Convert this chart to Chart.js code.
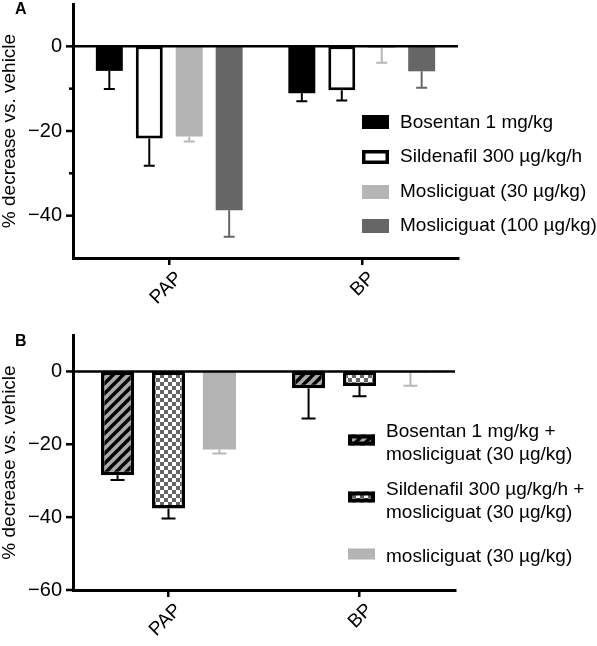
<!DOCTYPE html>
<html><head><meta charset="utf-8">
<script src="https://cdn.jsdelivr.net/npm/chart.js@4.4.1/dist/chart.umd.min.js"></script>
<style>
html,body{margin:0;padding:0;background:#fff;}
#wrap{position:relative;width:597px;height:646px;overflow:hidden;}
.box{position:absolute;left:0;width:597px;}
</style></head><body>
<div id="wrap">
<div class="box" style="top:0;height:318px"><canvas id="cA" width="597" height="318"></canvas></div>
<div class="box" style="top:318px;height:328px"><canvas id="cB" width="597" height="328"></canvas></div>
</div>
<script>
// ---------- DATA ----------
const categories = ['PAP', 'BP'];
const yTitle = '% decrease vs. vehicle';

// Panel A
const labelsA = ['Bosentan 1 mg/kg', 'Sildenafil 300 µg/kg/h', 'Mosliciguat (30 µg/kg)', 'Mosliciguat (100 µg/kg)'];
const bosentanA = [-5.8, -11.1];
const bosentanAErr = [4.3, 1.9];
const sildenafilA = [-21.8, -10.4];
const sildenafilAErr = [6.4, 2.4];
const mosli30A = [-21.3, -0.4];
const mosli30AErr = [1.2, 3.5];
const mosli100A = [-38.7, -5.9];
const mosli100AErr = [6.3, 3.9];
const ticksA = [0, -20, -40];
const minorTicksA = [-10, -30];

// Panel B
const labelsB = [['Bosentan 1 mg/kg +', 'mosliciguat (30 µg/kg)'], ['Sildenafil 300 µg/kg/h +', 'mosliciguat (30 µg/kg)'], ['mosliciguat (30 µg/kg)']];
const bosMosB = [-28.5, -4.6];
const bosMosBErr = [1.3, 8.3];
const silMosB = [-37.6, -4.0];
const silMosBErr = [2.8, 2.8];
const mosli30B = [-21.4, -0.3];
const mosli30BErr = [1.1, 3.6];
const ticksB = [0, -20, -40, -60];

// ---------- PATTERNS ----------
function hatchPattern() {
  const c = document.createElement('canvas'); c.width = 10; c.height = 10;
  const x = c.getContext('2d');
  x.fillStyle = '#a9a9a9'; x.fillRect(0, 0, 10, 10);
  x.strokeStyle = '#000'; x.lineWidth = 3.4;
  for (const o of [-10, 0, 10]) { x.beginPath(); x.moveTo(o - 2, 12); x.lineTo(o + 12, -2); x.stroke(); }
  return x.createPattern(c, 'repeat');
}
function checkPattern() {
  const c = document.createElement('canvas'); c.width = 8; c.height = 8;
  const x = c.getContext('2d');
  x.fillStyle = '#fff'; x.fillRect(0, 0, 8, 8);
  x.fillStyle = '#666'; x.fillRect(0, 0, 4, 4); x.fillRect(4, 4, 4, 4);
  return x.createPattern(c, 'repeat');
}

const FONT = '"Liberation Sans", Arial, Helvetica, sans-serif';
const fmt = v => (v < 0 ? '\u2212' + Math.abs(v) : String(v));

// ---------- DECOR PLUGIN ----------
const decor = {
  id: 'decor',
  afterDatasetsDraw(chart, args, o) {
    const ctx = chart.ctx, ys = chart.scales.y, a = chart.chartArea;
    // error bars
    chart.data.datasets.forEach((ds, i) => {
      const meta = chart.getDatasetMeta(i);
      meta.data.forEach((bar, j) => {
        const v = ds.data[j], e = ds.errors[j];
        const y1 = ys.getPixelForValue(v), y2 = ys.getPixelForValue(v - e);
        ctx.save();
        ctx.strokeStyle = ds.errColor; ctx.lineWidth = o.errWidth;
        ctx.beginPath();
        ctx.moveTo(bar.x, y1); ctx.lineTo(bar.x, y2);
        ctx.moveTo(bar.x - o.cap / 2, y2); ctx.lineTo(bar.x + o.cap / 2, y2);
        ctx.stroke(); ctx.restore();
      });
    });
    // zero line
    ctx.save();
    const y0 = ys.getPixelForValue(0);
    ctx.strokeStyle = '#000'; ctx.lineWidth = 2.5;
    ctx.beginPath(); ctx.moveTo(a.left, y0); ctx.lineTo(a.right, y0); ctx.stroke();
    // y tick marks
    ctx.lineWidth = 2.5;
    o.major.forEach(v => { const y = ys.getPixelForValue(v); ctx.beginPath(); ctx.moveTo(a.left - 7, y); ctx.lineTo(a.left, y); ctx.stroke(); });
    o.minor.forEach(v => { const y = ys.getPixelForValue(v); ctx.beginPath(); ctx.moveTo(a.left - 4, y); ctx.lineTo(a.left, y); ctx.stroke(); });
    // legend
    const L = o.legend;
    ctx.font = '19px ' + FONT; ctx.textBaseline = 'middle'; ctx.textAlign = 'left';
    L.rows.forEach((r, i) => {
      const ds = chart.data.datasets[i];
      const bx = L.boxX, by = r.box - L.boxH / 2;
      ctx.fillStyle = ds.backgroundColor; ctx.fillRect(bx, by, L.boxW, L.boxH);
      if (ds.legendBorder) {
        const w = ds.legendBorder;
        ctx.strokeStyle = '#000'; ctx.lineWidth = w;
        ctx.strokeRect(bx + w / 2, by + w / 2, L.boxW - w, L.boxH - w);
      }
      ctx.fillStyle = '#000';
      const lines = Array.isArray(ds.label) ? ds.label : [ds.label];
      lines.forEach((t, k) => ctx.fillText(t, L.textX, r.text + k * L.lineH));
    });
    // panel letter
    ctx.font = 'bold 16px ' + FONT; ctx.textBaseline = 'top';
    ctx.fillText(o.letter, 15, o.letterY);
    ctx.restore();
  }
};

function baseOptions(cfg) {
  return {
    responsive: false, animation: false,
    layout: { padding: { top: cfg.top, right: cfg.right, left: 0, bottom: 0 } },
    plugins: { legend: { display: false }, tooltip: { enabled: false }, decor: cfg.decor },
    scales: {
      x: {
        offset: true,
        grid: { display: true, drawOnChartArea: false, drawTicks: true, tickLength: 7, offset: false, color: '#000', lineWidth: 2.5 },
        border: { display: true, color: '#000', width: 3 },
        ticks: { color: '#000', font: { family: FONT, size: 19 }, minRotation: 45, maxRotation: 45, padding: 2, labelOffset: 10 },
        afterFit: s => { s.height = cfg.xh; s.paddingLeft = 0; s.paddingRight = 0; }
      },
      y: {
        min: cfg.min, max: 10,
        ticks: { stepSize: cfg.step, color: '#000', font: { family: FONT, size: 20 }, padding: 11,
          callback: v => (cfg.major.includes(v) ? fmt(v) : '') },
        grid: { display: false, drawTicks: false },
        border: { display: true, color: '#000', width: 3 },
        title: { display: true, text: yTitle, color: '#000', font: { family: FONT, size: 19, lineHeight: 1 }, padding: 0 },
        afterFit: s => { s.width = 73; s.paddingTop = 0; s.paddingBottom = 0; }
      }
    }
  };
}

// ---------- CHART A ----------
new Chart(document.getElementById('cA'), {
  type: 'bar',
  data: {
    labels: categories,
    datasets: [
      { label: labelsA[0], data: bosentanA, errors: bosentanAErr, backgroundColor: '#000', errColor: '#000', borderWidth: 0 },
      { label: labelsA[1], data: sildenafilA, errors: sildenafilAErr, backgroundColor: '#fff', borderColor: '#000', borderWidth: 3, borderSkipped: false, errColor: '#000', legendBorder: 3.5 },
      { label: labelsA[2], data: mosli30A, errors: mosli30AErr, backgroundColor: '#b4b4b4', errColor: '#b8b8b8', borderWidth: 0 },
      { label: labelsA[3], data: mosli100A, errors: mosli100AErr, backgroundColor: '#666666', errColor: '#666666', borderWidth: 0 }
    ].map(d => Object.assign(d, { categoryPercentage: 0.83, barPercentage: 0.675 }))
  },
  options: baseOptions({
    top: 4, right: 139, xh: 60, min: -50, step: 10, major: ticksA,
    decor: { errWidth: 2, cap: 11, major: ticksA, minor: minorTicksA, letter: 'A', letterY: 2,
      legend: { boxX: 362, boxW: 27, boxH: 14, textX: 400, lineH: 23,
        rows: [{ box: 122, text: 123 }, { box: 157, text: 157 }, { box: 192, text: 192 }, { box: 226, text: 226 }] } }
  }),
  plugins: [decor]
});

// ---------- CHART B ----------
new Chart(document.getElementById('cB'), {
  type: 'bar',
  data: {
    labels: categories,
    datasets: [
      { label: labelsB[0], data: bosMosB, errors: bosMosBErr, backgroundColor: hatchPattern(), borderColor: '#000', borderWidth: 3.5, borderSkipped: false, errColor: '#000', legendBorder: 4 },
      { label: labelsB[1], data: silMosB, errors: silMosBErr, backgroundColor: checkPattern(), borderColor: '#000', borderWidth: 3.5, borderSkipped: false, errColor: '#000', legendBorder: 4 },
      { label: labelsB[2], data: mosli30B, errors: mosli30BErr, backgroundColor: '#b4b4b4', errColor: '#b8b8b8', borderWidth: 0 }
    ].map(d => Object.assign(d, { categoryPercentage: 0.80, barPercentage: 0.65 }))
  },
  options: baseOptions({
    top: 17, right: 142, xh: 56, min: -60, step: 20, major: ticksB,
    decor: { errWidth: 2, cap: 14, major: ticksB, minor: [], letter: 'B', letterY: 16,
      legend: { boxX: 348, boxW: 27, boxH: 11, textX: 386, lineH: 23,
        rows: [{ box: 122, text: 114 }, { box: 179, text: 172 }, { box: 236, text: 239 }] } }
  }),
  plugins: [decor]
});
</script>
</body></html>
